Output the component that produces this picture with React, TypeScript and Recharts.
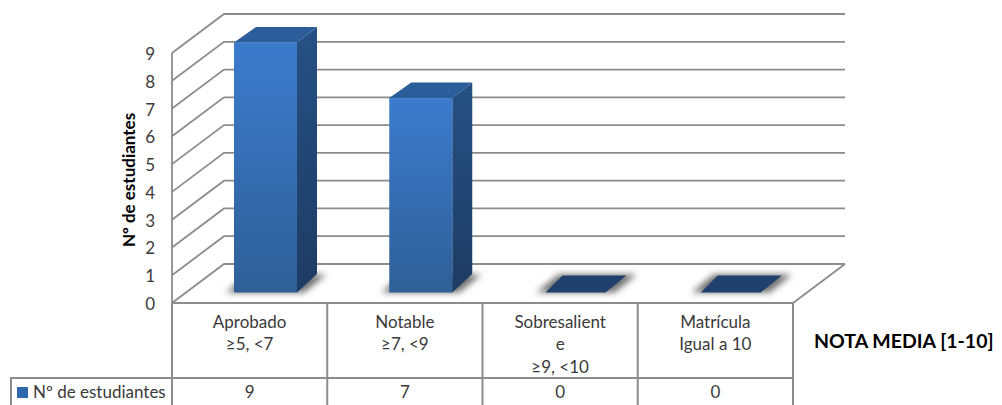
import { Bar, BarChart, CartesianGrid, XAxis, YAxis } from 'recharts';

const categories = ['Aprobado\n≥5, <7', 'Notable\n≥7, <9', 'Sobresalient\ne\n≥9, <10', 'Matrícula\nIgual a 10'];
const students = [9, 7, 0, 0];
const yTicks = [0, 1, 2, 3, 4, 5, 6, 7, 8, 9];
const seriesName = 'Nº de estudiantes';
const yTitle = 'Nº de estudiantes';
const xTitle = 'NOTA MEDIA [1-10]';

const data = categories.map((name, i) => ({ name, value: students[i] }));

const FONT = 'Lato, Carlito, sans-serif';
const LINE = '#8c8c8c';
const TEXT = '#3a3a3a';
const WALL_DX = 52;
const WALL_DY = -39;

function GridLine(props: any) {
  const { x1, x2, y1 } = props;
  const backY = y1 + WALL_DY;
  const isFloor = y1 > 300;
  return (
    <g>
      <polyline
        fill="none"
        stroke={LINE}
        strokeWidth={1.8}
        points={`${x1},${y1} ${x1 + WALL_DX},${backY} ${x2 + WALL_DX},${backY}`}
      />
      {isFloor && (
        <polyline
          fill="none"
          stroke={LINE}
          strokeWidth={1.8}
          points={`${x1},${y1} ${x2},${y1} ${x2 + WALL_DX},${backY}`}
        />
      )}
    </g>
  );
}

function Box3D(props: any) {
  const { x, y, width, height } = props;
  const l = x + 16;
  const r = l + width;
  const top = y - 10.5;
  const bottom = top + height;
  const empty = height < 1;
  const footprint = `${l - 8},${bottom} ${r + 7},${bottom} ${r + 29},${bottom - 18} ${l + 14},${bottom - 18}`;
  return (
    <g>
      <polygon points={footprint} fill="#6f6f6f" filter="url(#floorShadow)" />
      {empty ? (
        <polygon
          points={`${l + 1},${bottom} ${r - 2},${bottom} ${r + 19},${bottom - 17} ${l + 18},${bottom - 17}`}
          fill="#1f3f6c"
        />
      ) : (
        <g>
          <polygon
            points={`${l},${top} ${r},${top} ${r + 20},${top - 15.5} ${l + 22},${top - 15.5}`}
            fill="#2b5d9b"
          />
          <polygon
            points={`${r},${top} ${r + 20},${top - 15.5} ${r + 20},${bottom - 18.5} ${r},${bottom}`}
            fill="url(#sideFill)"
          />
          <rect x={l} y={top} width={width} height={height} fill="url(#frontFill)" />
        </g>
      )}
    </g>
  );
}

function TableTick(props: any) {
  const { x, index, payload } = props;
  const colW = 155.25;
  const left = x - colW / 2;
  const right = x + colW / 2;
  const lines = String(payload.value).split('\n');
  return (
    <g fontFamily={FONT} fontSize={17} fill={TEXT}>
      <line x1={right} y1={303} x2={right} y2={405} stroke={LINE} strokeWidth={2} />
      <line x1={left} y1={378} x2={right} y2={378} stroke={LINE} strokeWidth={2} />
      {lines.map((t, i) => (
        <text key={i} x={x} y={328 + i * 22.3} textAnchor="middle">
          {t}
        </text>
      ))}
      <text x={x} y={398} textAnchor="middle">
        {students[index]}
      </text>
    </g>
  );
}

export default function App() {
  return (
    <div style={{ position: 'absolute', left: 0, top: 0, width: 1002, height: 405, background: '#fff' }}>
      <BarChart
        width={1002}
        height={405}
        data={data}
        margin={{ top: 53, right: 209, bottom: 0, left: 0 }}
        barCategoryGap={0}
      >
        <defs>
          <linearGradient id="frontFill" x1="0" y1="0" x2="0" y2="1">
            <stop offset="0%" stopColor="#3c7bcd" />
            <stop offset="100%" stopColor="#2f6097" />
          </linearGradient>
          <linearGradient id="sideFill" x1="0" y1="0" x2="0" y2="1">
            <stop offset="0%" stopColor="#265184" />
            <stop offset="100%" stopColor="#1e3b63" />
          </linearGradient>
          <filter id="floorShadow" x="-20%" y="-40%" width="140%" height="180%">
            <feGaussianBlur stdDeviation="3" />
          </filter>
        </defs>
        <CartesianGrid vertical={false} horizontal={GridLine as any} />
        <XAxis
          dataKey="name"
          height={102}
          interval={0}
          axisLine={false}
          tickLine={false}
          tick={TableTick as any}
        />
        <YAxis
          width={172}
          domain={[0, 9]}
          ticks={yTicks}
          interval={0}
          tickLine={false}
          tickSize={0}
          tickMargin={17}
          axisLine={{ stroke: LINE, strokeWidth: 1.8 }}
          tick={{ fontSize: 17, fontFamily: FONT, fill: TEXT, dy: 1 }}
        />
        <Bar dataKey="value" barSize={63} isAnimationActive={false} shape={Box3D as any} />
        <line x1={172} y1={303} x2={172} y2={405} stroke={LINE} strokeWidth={2} />
        <polyline points="172,378 11,378 11,405" fill="none" stroke={LINE} strokeWidth={2} />
        <rect x={17} y={387} width={11} height={11} fill="#2f69ab" />
        <text x={33} y={398} fontFamily={FONT} fontSize={17} fill={TEXT}>
          {seriesName}
        </text>
        <text
          transform="translate(135 180) rotate(-90)"
          textAnchor="middle"
          fontFamily={FONT}
          fontSize={17}
          fontWeight={700}
          fill="#000"
        >
          {yTitle}
        </text>
        <text x={814} y={348} fontFamily={FONT} fontSize={19.5} fontWeight={700} fill="#000">
          {xTitle}
        </text>
      </BarChart>
    </div>
  );
}
